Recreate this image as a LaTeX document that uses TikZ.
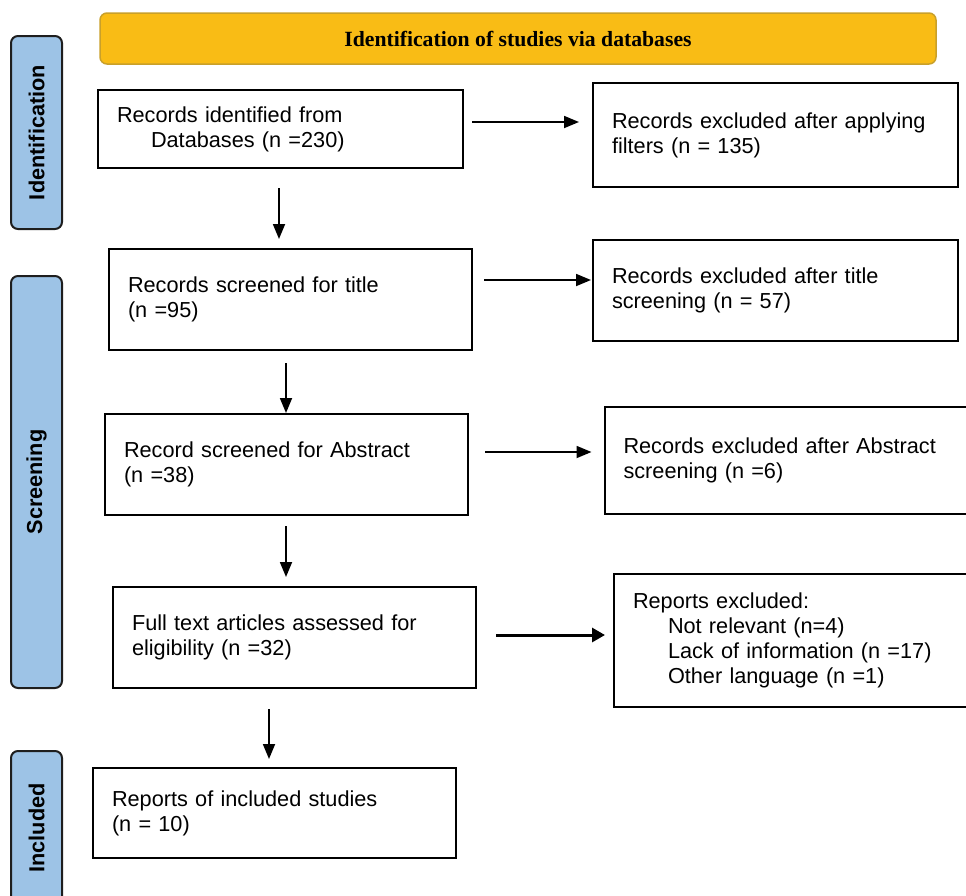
\documentclass[tikz,border=0pt]{standalone}
\usepackage{fontspec}
\setmainfont{Liberation Sans}
\newfontfamily\hdrfont{Liberation Serif}
\usetikzlibrary{arrows.meta}
\definecolor{hdrgold}{HTML}{F9BC15}
\definecolor{hdrborder}{HTML}{C9A02A}
\definecolor{barblue}{HTML}{9DC3E6}
\definecolor{barborder}{HTML}{1E1E1E}
\begin{document}
\begin{tikzpicture}[x=1pt,y=-1pt,
  every node/.style={font=\fontsize{21.7}{25}\selectfont},
  box/.style={draw=black, line width=2pt, fill=white, inner xsep=19pt, inner ysep=4pt, align=left},
  sidebar/.style={draw=barborder, line width=2pt, fill=barblue, rounded corners=7pt, rotate=90,
    font=\fontsize{21.7}{25}\selectfont\bfseries},
  arr/.style={line width=1.8pt, -{Triangle[length=15pt,width=12pt]}},
  arrthick/.style={line width=3pt, -{Triangle[length=13pt,width=14pt]}}
]
\useasboundingbox (0,0) rectangle (966,895);

% header
\node[draw=hdrborder, line width=1.5pt, fill=hdrgold, rounded corners=7pt,
  minimum width=836pt, minimum height=51pt,
  font=\fontsize{21.7}{25}\selectfont\hdrfont\bfseries] (hdr) at (518,38.5)
  {Identification of studies via databases};

% side bars
\node[sidebar, minimum width=193pt, minimum height=51pt] (sid) at (36.5,132.5) {Identification};
\node[sidebar, minimum width=412pt, minimum height=51pt] (sscr) at (36.5,482) {Screening};
\node[sidebar, minimum width=154pt, minimum height=51pt] (sinc) at (36.5,828) {Included};

% boxes
\node[box, minimum height=78pt, text width=327pt] (b1) at (280.5,129)
  {Records identified from\\\hspace*{34pt}Databases (n =230)};
\node[box, minimum height=104pt, text width=327pt] (b2) at (775.5,135)
  {Records excluded after applying\\filters (n = 135)};
\node[box, minimum height=101pt, text width=325pt] (b3) at (290.5,299.5)
  {Records screened for title\\(n =95)};
\node[box, minimum height=101pt, text width=327pt] (b4) at (775.5,290.5)
  {Records excluded after title\\screening (n = 57)};
\node[box, minimum height=101pt, text width=325pt] (b5) at (286.5,464.5)
  {Record screened for Abstract\\(n =38)};
\node[box, minimum height=107pt, text width=324pt] (b6) at (785.5,460.5)
  {Records excluded after Abstract\\screening (n =6)};
\node[box, minimum height=101pt, text width=325pt] (b7) at (294.5,637.5)
  {Full text articles assessed for\\eligibility (n =32)};
\node[box, minimum height=133pt, text width=330pt] (b8) at (798,640.5)
  {Reports excluded:\\\hspace*{35pt}Not relevant (n=4)\\\hspace*{35pt}Lack of information (n =17)\\\hspace*{35pt}Other language (n =1)};
\node[box, minimum height=90pt, text width=325pt] (b9) at (274.5,813)
  {Reports of included studies\\(n = 10)};

% horizontal arrows
\draw[arr, shorten <=8pt, shorten >=13pt] ([yshift=7pt]b1.east) -- ([yshift=7pt]b1.east -| b2.west);
\draw[arr, shorten <=11pt, shorten >=1pt] ([yshift=19.5pt]b3.east) -- ([yshift=19.5pt]b3.east -| b4.west);
\draw[arr, shorten <=16pt, shorten >=12pt] ([yshift=12.5pt]b5.east) -- ([yshift=12.5pt]b5.east -| b6.west);
\draw[arrthick, shorten <=19pt, shorten >=8pt] ([yshift=2.5pt]b7.east) -- ([yshift=2.5pt]b7.east -| b8.west);

% vertical arrows
\draw[arr, shorten <=19pt, shorten >=9pt] ([xshift=-1.5pt]b1.south) -- ([xshift=-1.5pt]b1.south |- b3.north);
\draw[arr, shorten <=12pt, shorten >=0pt] ([xshift=-4.5pt]b3.south) -- ([xshift=-4.5pt]b3.south |- b5.north);
\draw[arr, shorten <=10pt, shorten >=9pt] ([xshift=-0.5pt]b5.south) -- ([xshift=-0.5pt]b5.south |- b7.north);
\draw[arr, shorten <=20pt, shorten >=8pt] ([xshift=-25.5pt]b7.south) -- ([xshift=-25.5pt]b7.south |- b9.north);
\end{tikzpicture}
\end{document}
